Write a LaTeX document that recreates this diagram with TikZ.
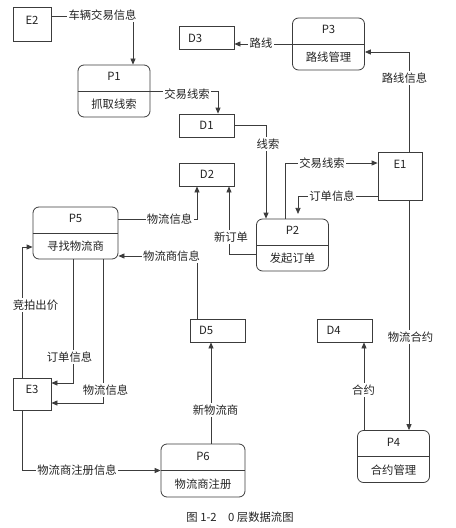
\documentclass[tikz,border=0pt]{standalone}
\usepackage{fontspec}
\setmainfont{Noto Sans CJK SC}
\usetikzlibrary{arrows.meta, positioning}
\definecolor{linegray}{RGB}{60,60,60}
\definecolor{textgray}{RGB}{35,35,35}

\begin{document}
\begin{tikzpicture}[x=0.75pt, y=-0.75pt, line width=0.6pt,
    every node/.style={font=\fontsize{8.5pt}{10pt}\selectfont, text=textgray},
    proc/.style={draw=linegray, rounded corners=4.5pt, minimum width=54pt, minimum height=39pt,
        align=center, font=\fontsize{8.5pt}{21pt}\selectfont},
    ext/.style={draw=linegray, minimum width=28.5pt, minimum height=25pt, text depth=6.5pt},
    store/.style={draw=linegray, minimum height=17.25pt, text width=27.75pt, inner xsep=6.75pt},
    lbl/.style={fill=white, inner xsep=1pt, inner ysep=1.5pt},
    flow/.style={draw=linegray, -{Triangle[length=4.5pt, width=3.8pt]}},
    wire/.style={draw=linegray}]
    \useasboundingbox (0,0) rectangle (455,528);

    % External entities
    \node[ext, minimum height=25.5pt, text depth=6pt] (e2) at (32,24) {E2};
    \node[ext, minimum width=33pt, minimum height=36pt, text depth=18pt] (e1) at (400,176) {E1};
    \node[ext, minimum height=24pt] (e3) at (32,394) {E3};

    % Processes
    \node[proc] (p1) at (114,91) {P1\\抓取线索};
    \node[proc] (p2) at (292.5,245) {P2\\发起订单};
    \node[proc] (p3) at (328.5,44) {P3\\路线管理};
    \node[proc] (p4) at (393.5,456.5) {P4\\合约管理};
    \node[proc, minimum width=63.75pt] (p5) at (75.5,233) {P5\\寻找物流商};
    \node[proc, minimum width=63pt, minimum height=39.75pt] (p6) at (203,470.5) {P6\\物流商注册};
    \foreach \p in {p1,p2,p3,p4,p5,p6}
        \draw[wire] (\p.west) -- (\p.east);

    % Data stores
    \node[store, align=center] (d1) at (206.5,125.5) {D1};
    \node[store, align=center] (d2) at (207,174.5) {D2};
    \node[store, align=left] (d3) at (206.5,38) {D3};
    \node[store, align=left] (d4) at (345,330.5) {D4};
    \node[store, align=left] (d5) at (217.5,330.5) {D5};

    % Flows
    \coordinate (e1s) at ([shift={(9,0)}]e1.south);
    \coordinate (p4n) at ([shift={(-29.5,0)}]p4.north);
    \coordinate (p6n) at ([shift={(8,0)}]p6.north);

    \draw[flow] ([shift={(0,-8)}]e2.east) -| ([shift={(19,0)}]p1.north);
    \draw[flow] (p1.east) -| ([shift={(11.5,0)}]d1.north);
    \draw[flow] (d1.east) -| ([shift={(-26.5,0)}]p2.north);
    \draw[flow] ([shift={(-7.5,0)}]p2.north) |- ([shift={(0,-13)}]e1.west);
    \draw[flow, shorten >=3.5pt] ([shift={(0,20)}]e1.west) -| ([shift={(5.5,0)}]p2.north);
    \draw[flow] ([shift={(9,0)}]e1.north) |- ([shift={(0,8)}]p3.east);
    \draw[flow] (p3.west) -- (p3.west -| d3.east);
    \draw[flow] (e1s) -- (e1s |- p4.north);
    \draw[flow] (p4n) -- (p4n |- d4.south);
    \draw[flow] ([shift={(0,9)}]p2.west) -| ([shift={(22,0)}]d2.south);
    \draw[flow] ([shift={(0,-14)}]p5.east) -| ([shift={(-10,0)}]d2.south);
    \draw[flow] ([shift={(-20.5,0)}]d5.north) |- ([shift={(0,23)}]p5.east);
    \draw[flow] ([shift={(-10,0)}]e3.north) |- ([shift={(0,14)}]p5.west);
    \draw[flow] ([shift={(-2.5,0)}]p5.south) |- ([shift={(0,-11)}]e3.east);
    \draw[flow] ([shift={(27.5,0)}]p5.south) |- ([shift={(0,9)}]e3.east);
    \draw[flow] ([shift={(-10,0)}]e3.south) |- (p6.west);
    \draw[flow] (p6n) -- (p6n |- d5.south);

    % Flow labels
    \node[lbl] (l1) at (102.5,15) {车辆交易信息};
    \node[lbl] (l2) at (187,94) {交易线索};
    \node[lbl] (l3) at (268,144) {线索};
    \node[lbl] (l4) at (322,163) {交易线索};
    \node[lbl] (l5) at (332,196) {订单信息};
    \node[lbl] (l6) at (404.5,78) {路线信息};
    \node[lbl] (l7) at (261,43) {路线};
    \node[lbl] (l8) at (410.5,337) {物流合约};
    \node[lbl] (l9) at (363.5,390) {合约};
    \node[lbl] (l10) at (231,237) {新订单};
    \node[lbl] (l11) at (169.5,219) {物流信息};
    \node[lbl] (l12) at (171.5,256) {物流商信息};
    \node[lbl] (l13) at (35.5,305) {竞拍出价};
    \node[lbl] (l14) at (69.5,357) {订单信息};
    \node[lbl] (l15) at (105.5,390) {物流信息};
    \node[lbl] (l16) at (77,470) {物流商注册信息};
    \node[lbl] (l17) at (215.5,410) {新物流商};

    \node (cap) at (240,517) {图 1-2\quad 0 层数据流图};
\end{tikzpicture}
\end{document}
